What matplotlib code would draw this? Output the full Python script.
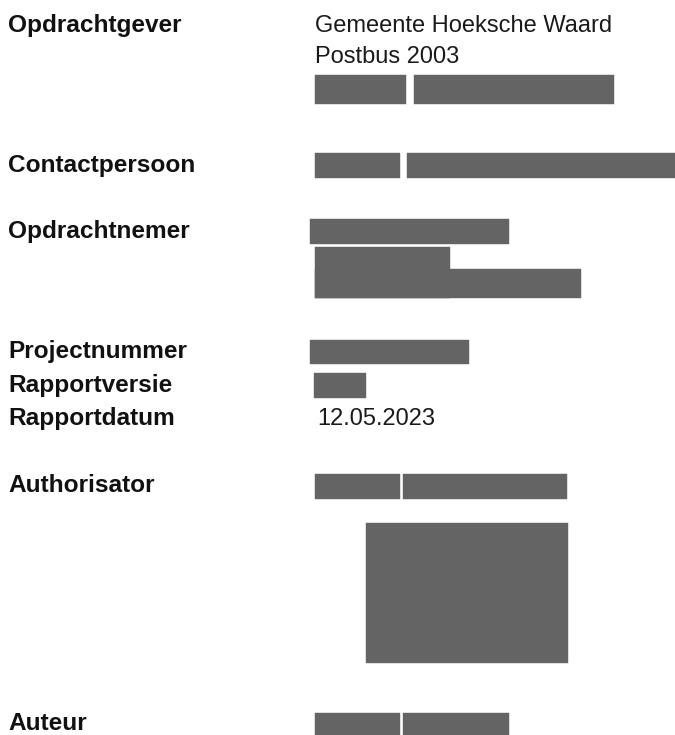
import matplotlib.pyplot as plt

plt.rcParams['font.family'] = ['Liberation Sans', 'DejaVu Sans']

# field labels (left column) and their text baselines in px from the top
labels = ['Opdrachtgever', 'Contactpersoon', 'Opdrachtnemer', 'Projectnummer',
          'Rapportversie', 'Rapportdatum', 'Authorisator', 'Auteur']
label_base = [32, 172, 238, 358, 392, 425, 492, 730]

# plain text values (right column)
values = ['Gemeente Hoeksche Waard', 'Postbus 2003', '12.05.2023']
value_x = [315, 315, 317]
value_base = [32, 63, 425]

# redacted blocks: left, right, top, bottom (px)
box_left = [315, 414, 315, 407, 310, 315, 315, 310, 314, 315, 403, 366, 315, 403]
box_right = [406, 614, 400, 675, 509, 450, 581, 469, 366, 400, 567, 568, 400, 509]
box_top = [75, 75, 153, 153, 219, 247, 269, 340, 373, 474, 474, 523, 713, 713]
box_bottom = [104, 104, 178, 178, 244, 298, 298, 364, 398, 499, 499, 663, 740, 740]

fig = plt.figure(figsize=(6.75, 7.35), dpi=100)
ax = fig.add_axes([0, 0, 1, 1])
ax.set_xlim(0, 675)
ax.set_ylim(735, 0)
ax.axis('off')

widths = [r - l for l, r in zip(box_left, box_right)]
heights = [b - t for t, b in zip(box_top, box_bottom)]
centers = [(t + b) / 2 for t, b in zip(box_top, box_bottom)]
ax.barh(centers, widths, height=heights, left=box_left, color='#646464',
        edgecolor='#646464', linewidth=0.3)

for txt, y in zip(labels, label_base):
    ax.text(8, y, txt, fontsize=17.6, fontweight='bold', color='#111111',
            va='baseline', ha='left')

for txt, x, y in zip(values, value_x, value_base):
    ax.text(x, y, txt, fontsize=17, color='#1a1a1a', va='baseline', ha='left')

fig.savefig('out.png', dpi=100, facecolor='white')
